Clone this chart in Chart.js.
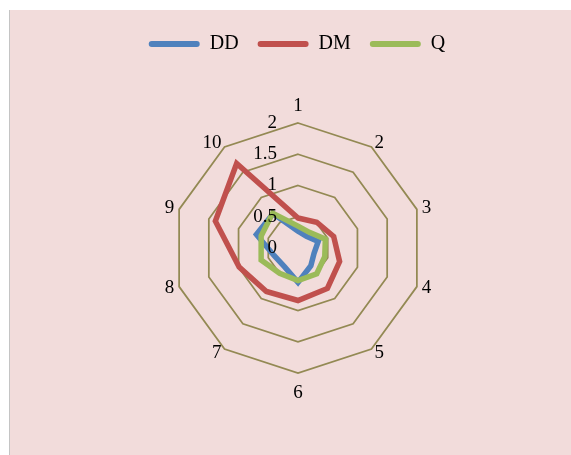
<!DOCTYPE html>
<html>
<head>
<meta charset="utf-8">
<script src="https://cdn.jsdelivr.net/npm/chart.js@4.4.1/dist/chart.umd.min.js"></script>
<style>
  html, body { margin: 0; padding: 0; background: #ffffff; }
  #frame {
    position: absolute; left: 9px; top: 10px;
    width: 561px; height: 445px;
    background: #f2dcdb;
    border-left: 1px solid #c4c4c4;
  }
  #c { position: absolute; left: 0; top: 0; }
</style>
</head>
<body>
<div id="frame"></div>
<canvas id="c" width="571" height="455"></canvas>
<script>
// Spokes of the radar
const categories = ['1', '2', '3', '4', '5', '6', '7', '8', '9', '10'];

// Series values, one per spoke
const ddValues = [0.27, 0.23, 0.34, 0.27, 0.35, 0.55, 0.37, 0.40, 0.70, 0.68];
const dmValues = [0.48, 0.51, 0.60, 0.70, 0.80, 0.84, 0.86, 0.99, 1.39, 1.67];
const qValues  = [0.35, 0.31, 0.46, 0.45, 0.51, 0.52, 0.50, 0.62, 0.62, 0.69];

// Ring values and their labels
const tickValues = [0, 0.5, 1, 1.5, 2];
const tickLabels = ['0', '0.5', '1', '1.5', '2'];

// Radar geometry and styling
const CENTER_X = 298;
const CENTER_Y = 248;
const RADIUS = 125;
const SERIF = '"Liberation Serif", "Times New Roman", serif';
const GRID_COLOR = '#938953';

// Ring value labels, right-aligned just left of the vertical spoke
const ringLabels = {
  id: 'ringLabels',
  afterDatasetsDraw(chart) {
    const scale = chart.scales.r;
    const ctx = chart.ctx;
    ctx.save();
    ctx.font = '19px ' + SERIF;
    ctx.fillStyle = '#000000';
    ctx.textAlign = 'right';
    ctx.textBaseline = 'middle';
    tickValues.forEach((v, i) => {
      const d = scale.getDistanceFromCenterForValue(v);
      ctx.fillText(tickLabels[i], scale.xCenter - 21, scale.yCenter - d);
    });
    ctx.restore();
  }
};

new Chart(document.getElementById('c'), {
  type: 'radar',
  data: {
    labels: categories,
    datasets: [
      { label: 'DD', data: ddValues, borderColor: '#4f81bd', backgroundColor: '#4f81bd', order: 2 },
      { label: 'DM', data: dmValues, borderColor: '#c0504d', backgroundColor: '#c0504d', order: 1 },
      { label: 'Q',  data: qValues,  borderColor: '#9bbb59', backgroundColor: '#9bbb59', order: 0 }
    ]
  },
  options: {
    responsive: false,
    animation: false,
    devicePixelRatio: 1,
    layout: { padding: { top: 15, left: 23, right: 0, bottom: 0 } },
    elements: {
      line: { borderWidth: 5.5, fill: false, tension: 0 },
      point: { radius: 0, hoverRadius: 0 }
    },
    scales: {
      r: {
        min: 0,
        max: 2,
        ticks: { display: false, stepSize: 0.5 },
        grid: { color: GRID_COLOR, lineWidth: 1.75 },
        angleLines: { display: false },
        pointLabels: {
          color: '#000000',
          font: { family: SERIF, size: 19, lineHeight: 0 },
          padding: (ctx) => ctx.index === 0 ? 16.5 : (ctx.index === 5 ? 20 : 5)
        },
        afterSetDimensions(scale) {
          scale.xCenter = CENTER_X;
          scale.yCenter = CENTER_Y;
          scale.drawingArea = RADIUS;
        }
      }
    },
    plugins: {
      tooltip: { enabled: false },
      legend: {
        position: 'top',
        align: 'center',
        labels: {
          color: '#000000',
          font: { family: SERIF, size: 20 },
          boxWidth: 51,
          boxHeight: 6,
          padding: 19,
          generateLabels(chart) {
            return chart.data.datasets.map((ds, i) => ({
              text: ds.label,
              fillStyle: ds.borderColor,
              strokeStyle: ds.borderColor,
              lineWidth: 0,
              borderRadius: 3,
              fontColor: '#000000',
              hidden: !chart.isDatasetVisible(i),
              datasetIndex: i
            }));
          }
        }
      }
    }
  },
  plugins: [ringLabels]
});
</script>
</body>
</html>
